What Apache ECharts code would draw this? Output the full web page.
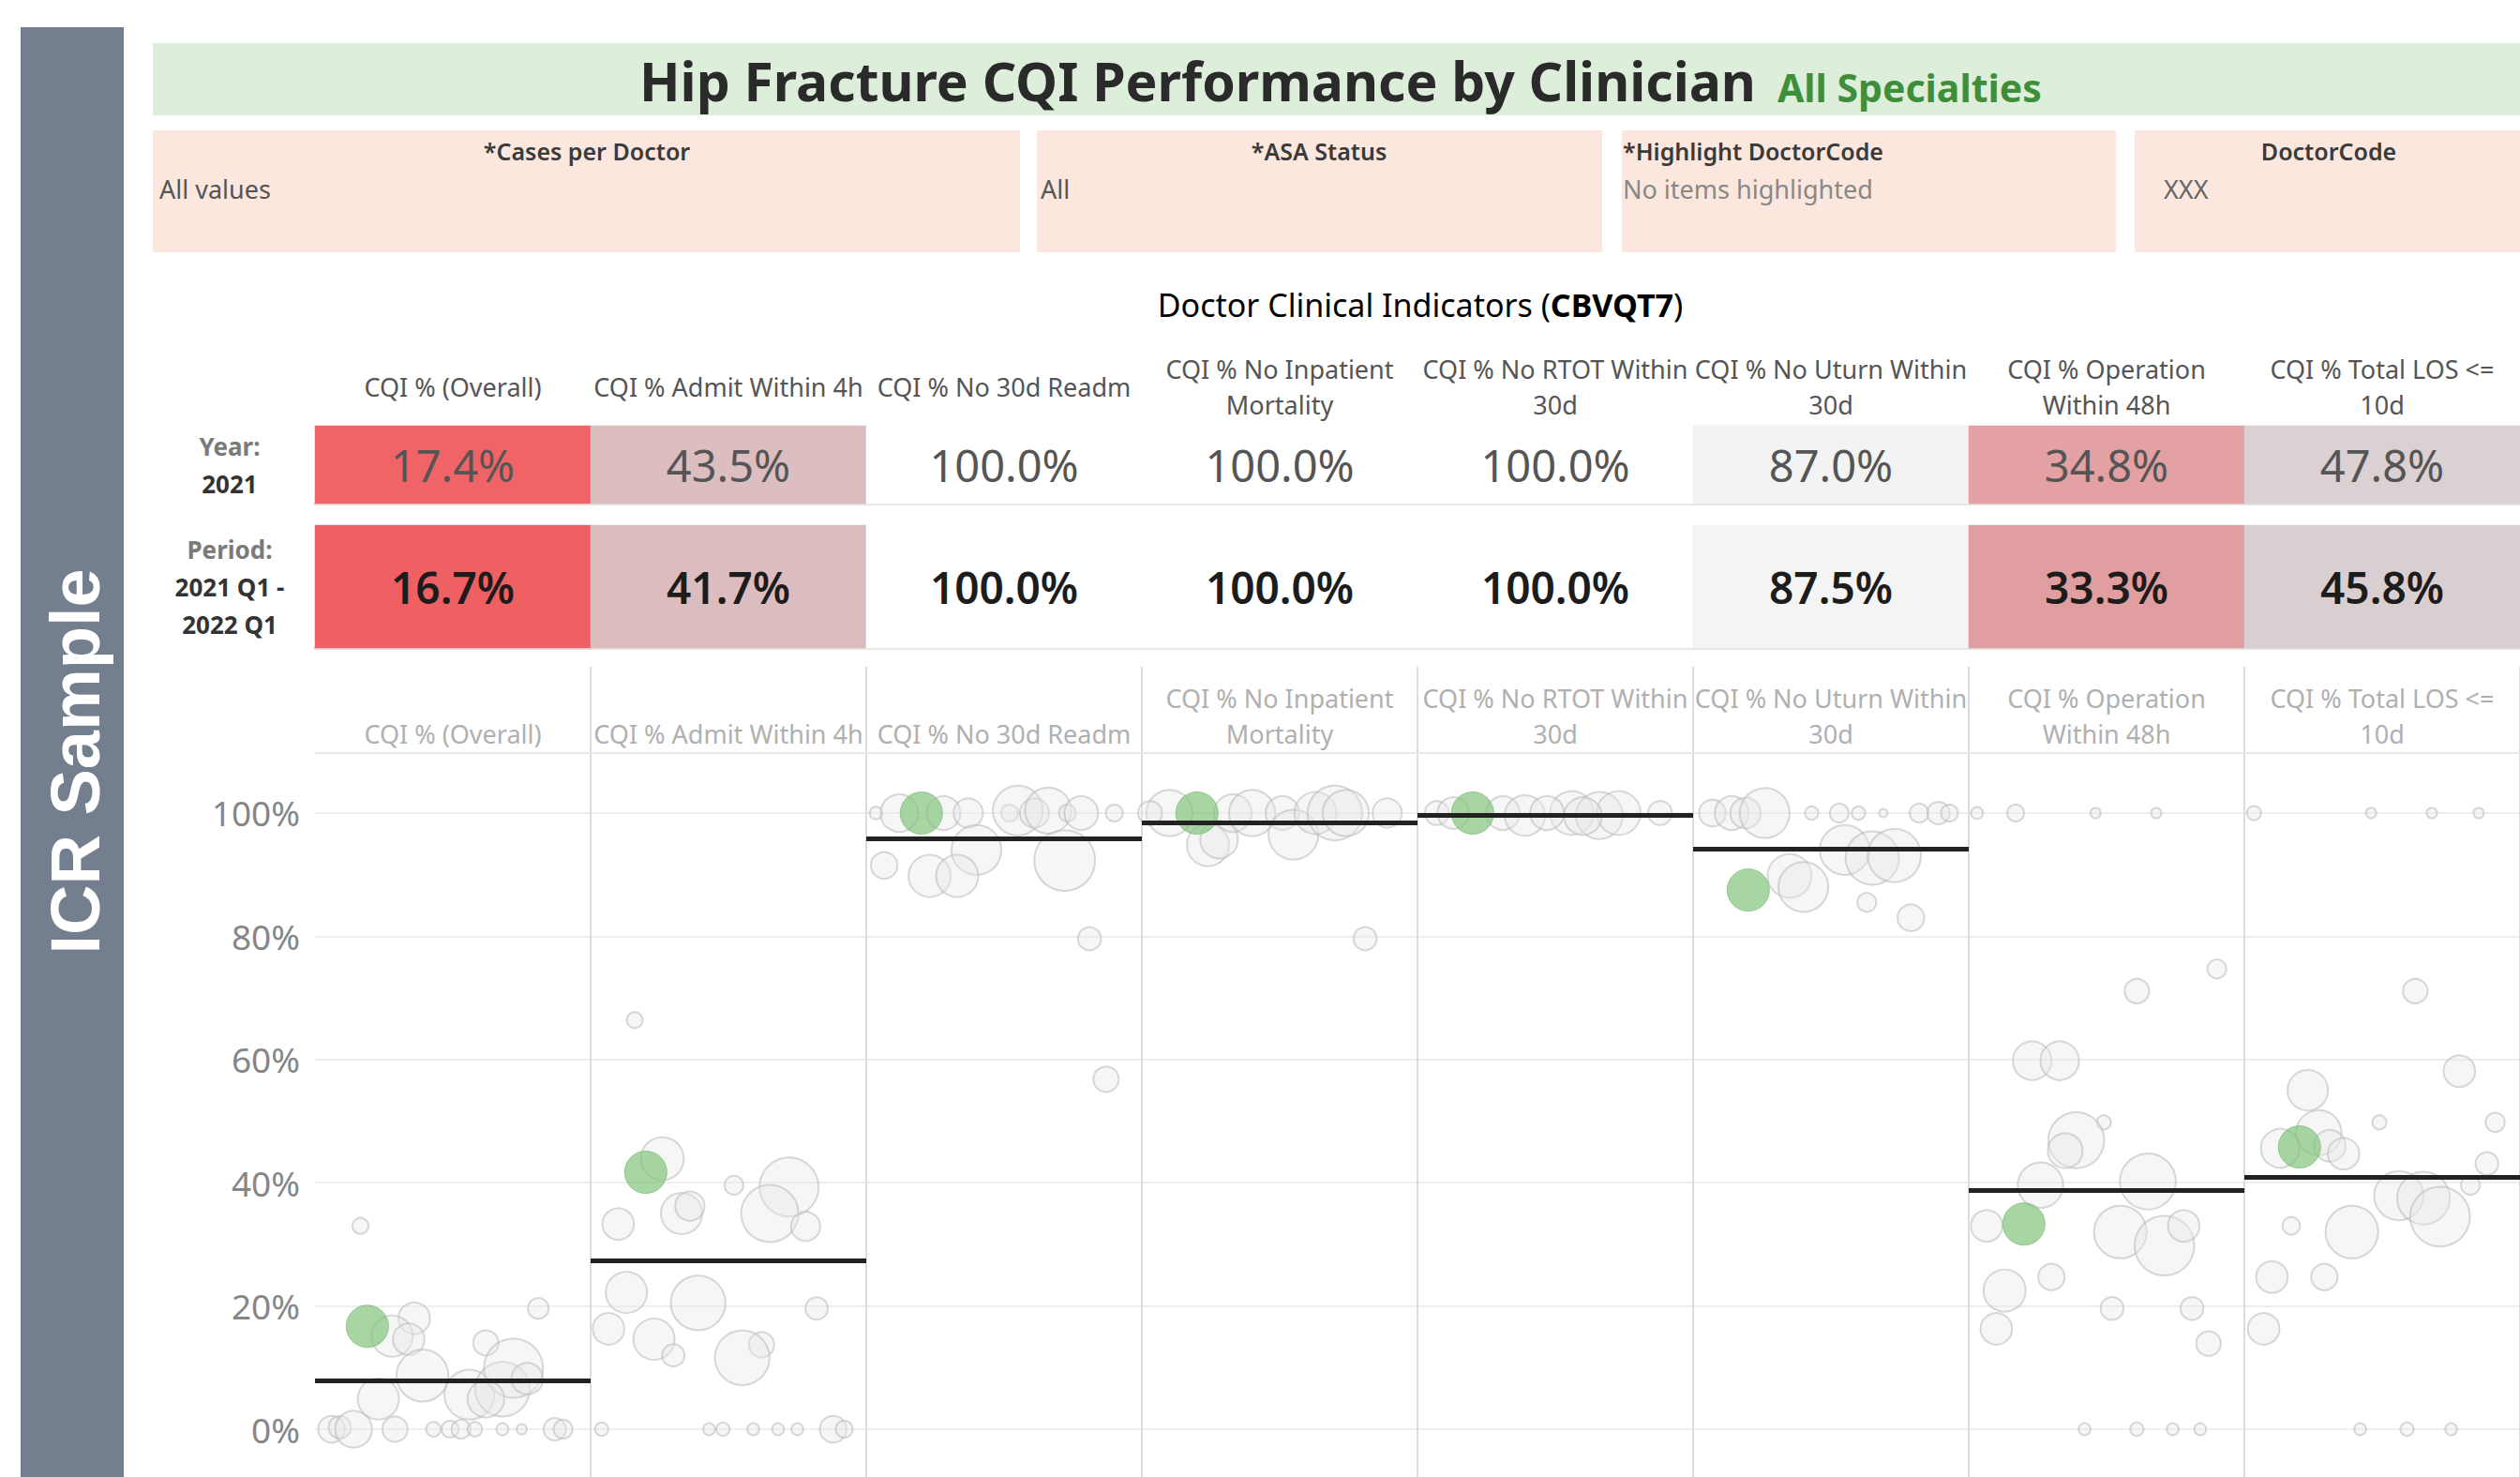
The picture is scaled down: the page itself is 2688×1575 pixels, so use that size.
<!DOCTYPE html>
<html>
<head>
<meta charset="utf-8">
<script src="https://cdn.jsdelivr.net/npm/echarts@6/dist/echarts.min.js"></script>
<style>
  html, body { margin: 0; padding: 0; background: #fff; }
  #main { width: 2688px; height: 1575px; }
</style>
</head>
<body>
<div id="main"></div>
<script>
// indicator columns
const indicators = [
  'CQI % (Overall)',
  'CQI % Admit Within 4h',
  'CQI % No 30d Readm',
  'CQI % No Inpatient\nMortality',
  'CQI % No RTOT Within\n30d',
  'CQI % No Uturn Within\n30d',
  'CQI % Operation\nWithin 48h',
  'CQI % Total LOS <=\n10d'
]

// doctor summary table (percent)
const yearValues = [17.4, 43.5, 100.0, 100.0, 100.0, 87.0, 34.8, 47.8]
const periodValues = [16.7, 41.7, 100.0, 100.0, 100.0, 87.5, 33.3, 45.8]
const yearColors = ['#f06467', '#dcbdc0', '#ffffff', '#ffffff', '#ffffff', '#f3f3f3', '#e3a1a4', '#dbd0d2']
const periodColors = ['#ef6063', '#dbbcbf', '#ffffff', '#ffffff', '#ffffff', '#f4f4f4', '#e19ea1', '#d9ced0']

// average of all clinicians per indicator (percent)
const avgValues = [7.9, 27.3, 95.9, 98.5, 99.7, 94.2, 38.8, 40.9]

// highlighted doctor: jitter within column and cases
const doctorJitter = [0.19, 0.20, 0.20, 0.20, 0.20, 0.20, 0.20, 0.20]
const doctorCases = 25

// other clinicians per column: [jitter, percent, cases]
const colOverall = [
  [0.36, 18.0, 14], [0.28, 15.1, 24], [0.34, 14.6, 14], [0.165, 33.0, 3.6], [0.81, 19.6, 6],
  [0.62, 14.0, 9], [0.39, 8.7, 38], [0.23, 4.9, 24], [0.56, 5.6, 35], [0.68, 6.5, 42],
  [0.72, 9.9, 49], [0.77, 8.2, 14], [0.62, 4.9, 19],
  [0.06, 0, 10], [0.09, 0.3, 7], [0.14, 0, 19], [0.29, 0, 9], [0.43, 0, 3], [0.49, 0, 4],
  [0.53, 0, 5], [0.58, 0, 3], [0.68, 0, 2], [0.75, 0, 1.5], [0.87, 0, 7], [0.90, 0, 5]
]
const colAdmit = [
  [0.26, 43.9, 26], [0.16, 66.4, 3.5], [0.10, 33.3, 14], [0.33, 35.0, 24], [0.36, 36.2, 12],
  [0.52, 39.6, 5], [0.72, 39.3, 49], [0.65, 35.0, 46], [0.78, 32.9, 12], [0.13, 22.2, 24],
  [0.39, 20.5, 42], [0.82, 19.6, 7], [0.065, 16.3, 14], [0.23, 14.6, 24], [0.30, 12.0, 7],
  [0.62, 13.7, 9], [0.55, 11.6, 42],
  [0.04, 0, 2.5], [0.43, 0, 2], [0.48, 0, 2.5], [0.59, 0, 2], [0.68, 0, 2], [0.75, 0, 2],
  [0.88, 0, 10], [0.92, 0, 4]
]
const colReadm = [
  [0.12, 100, 20], [0.035, 100, 2.2], [0.28, 100, 16], [0.37, 100, 12], [0.52, 100, 4],
  [0.55, 100.4, 35], [0.61, 100, 12], [0.66, 100.4, 30], [0.73, 100, 4], [0.78, 100, 16],
  [0.90, 100, 4], [0.40, 94.0, 35], [0.72, 92.3, 52], [0.065, 91.5, 10], [0.23, 89.8, 25],
  [0.33, 89.8, 25], [0.81, 79.6, 7.5], [0.87, 56.8, 9]
]
const colMortality = [
  [0.10, 100, 30], [0.24, 94.8, 25], [0.28, 95.7, 20], [0.33, 100, 20], [0.40, 100, 30],
  [0.51, 100, 16], [0.55, 96.5, 35], [0.63, 100, 25], [0.70, 100, 42], [0.74, 100, 30],
  [0.89, 100, 12], [0.81, 79.6, 7.5], [0.03, 100, 8]
]
const colRtot = [
  [0.07, 100, 8], [0.13, 100, 14], [0.31, 100, 16], [0.39, 99.6, 23], [0.56, 100, 27],
  [0.66, 99.6, 31], [0.73, 100, 27], [0.88, 100, 8], [0.47, 100, 16], [0.60, 99.5, 20]
]
const colUturn = [
  [0.07, 100, 10], [0.14, 100, 16], [0.19, 100, 13], [0.26, 100, 35], [0.43, 100, 2.5],
  [0.53, 100, 5], [0.60, 100, 2.5], [0.69, 100, 1], [0.82, 100, 5], [0.89, 100, 7],
  [0.93, 100, 4], [0.35, 89.8, 27], [0.40, 88.0, 35], [0.55, 94.0, 35], [0.65, 92.7, 40],
  [0.73, 93.1, 40], [0.63, 85.5, 5], [0.79, 83.0, 10]
]
const colOperation = [
  [0.03, 100, 2], [0.17, 100, 4], [0.46, 100, 1.5], [0.68, 100, 1.5],
  [0.90, 74.7, 5], [0.61, 71.1, 8.5], [0.23, 59.8, 21], [0.33, 59.8, 21], [0.49, 49.8, 2.8],
  [0.39, 46.9, 44], [0.35, 45.2, 17], [0.26, 39.6, 29], [0.65, 40.2, 44], [0.065, 33.0, 14],
  [0.55, 32.0, 39], [0.71, 29.8, 50], [0.78, 33.0, 14], [0.30, 24.7, 9.8], [0.13, 22.5, 25],
  [0.52, 19.6, 7.3], [0.81, 19.6, 7.3], [0.10, 16.3, 14], [0.87, 13.9, 8.5],
  [0.42, 0, 2], [0.61, 0, 2.5], [0.74, 0, 2], [0.84, 0, 2]
]
const colLos = [
  [0.035, 100, 2.8], [0.46, 100, 1.5], [0.68, 100, 1.5], [0.85, 100, 1.5],
  [0.62, 71.1, 8.5], [0.78, 58.1, 14], [0.23, 55.0, 23], [0.49, 49.8, 2.8], [0.91, 49.8, 5.2],
  [0.27, 48.1, 29], [0.13, 45.6, 21], [0.31, 46.0, 14], [0.36, 44.7, 14], [0.88, 43.1, 7.3],
  [0.56, 37.9, 34], [0.65, 37.5, 39], [0.71, 34.5, 50], [0.39, 32.0, 39], [0.82, 39.6, 5],
  [0.17, 33.0, 4.3], [0.10, 24.7, 14], [0.29, 24.7, 9.8], [0.07, 16.3, 14],
  [0.42, 0, 2], [0.59, 0, 2.5], [0.75, 0, 2]
]

const columns = [colOverall, colAdmit, colReadm, colMortality, colRtot, colUturn, colOperation, colLos]

const FONT = '"Noto Sans", "Open Sans", sans-serif'
const bubbleSize = d => 9 * Math.sqrt(d[2])

const otherBubbles = []
columns.forEach((col, c) => {
  col.forEach(p => otherBubbles.push([c + p[0], p[1], p[2]]))
})
const doctorBubbles = periodValues.map((v, c) => [c + doctorJitter[c], v, doctorCases])

const chart = echarts.init(document.getElementById('main'), null, { renderer: 'svg' })

const plotLeft = 336
const plotWidth = 2360

const option = {
  backgroundColor: '#ffffff',
  animation: false,
  textStyle: { fontFamily: FONT },
  grid: [
    { left: plotLeft, top: 454, width: plotWidth, height: 83 },
    { left: plotLeft, top: 560, width: plotWidth, height: 131 },
    { left: plotLeft, top: 711, width: plotWidth, height: 92 },
    { left: plotLeft, top: 803, width: plotWidth, height: 772 }
  ],
  xAxis: [
    {
      gridIndex: 0, type: 'category', position: 'top', data: indicators,
      axisLine: { show: false }, axisTick: { show: false },
      axisLabel: {
        interval: 0, margin: 42, verticalAlign: 'middle', lineHeight: 38,
        fontSize: 27, color: '#555', fontFamily: FONT
      }
    },
    {
      gridIndex: 0, type: 'category', position: 'bottom', data: indicators,
      axisLine: { show: true, lineStyle: { color: '#e4e4e4', width: 4 } },
      axisTick: { show: false }, axisLabel: { show: false }
    },
    {
      gridIndex: 1, type: 'category', position: 'top', data: indicators,
      axisLine: { show: false }, axisTick: { show: false }, axisLabel: { show: false }
    },
    {
      gridIndex: 1, type: 'category', position: 'bottom', data: indicators,
      axisLine: { show: true, lineStyle: { color: '#e4e4e4', width: 4 } },
      axisTick: { show: false }, axisLabel: { show: false }
    },
    {
      gridIndex: 2, type: 'value', min: 0, max: 8, interval: 1,
      axisLine: { show: false }, axisTick: { show: false }, axisLabel: { show: false },
      splitLine: { show: true, showMinLine: false, lineStyle: { color: '#dcdcdc', width: 2 } }
    },
    {
      gridIndex: 3, type: 'value', min: 0, max: 8, interval: 1,
      axisLine: { show: false }, axisTick: { show: false }, axisLabel: { show: false },
      splitLine: { show: true, showMinLine: false, lineStyle: { color: '#dcdcdc', width: 2 } }
    },
    {
      gridIndex: 3, type: 'category', position: 'top', data: indicators,
      axisLine: { show: true, lineStyle: { color: '#e8e8e8', width: 2 } },
      axisTick: { show: false },
      axisLabel: {
        interval: 0, margin: 2, verticalAlign: 'bottom', lineHeight: 38,
        fontSize: 27, color: '#b0b0b0', fontFamily: FONT
      }
    }
  ],
  yAxis: [
    {
      gridIndex: 0, type: 'category', data: ['year'],
      axisLine: { show: false }, axisTick: { show: false },
      axisLabel: {
        margin: 91, align: 'center',
        formatter: () => '{a|Year:}\n{b|2021}',
        rich: {
          a: { fontSize: 26, fontWeight: 'bold', color: '#7a7a7a', lineHeight: 40, fontFamily: FONT, align: 'center' },
          b: { fontSize: 26, fontWeight: 'bold', color: '#333', lineHeight: 40, fontFamily: FONT, align: 'center' }
        }
      }
    },
    {
      gridIndex: 1, type: 'category', data: ['period'],
      axisLine: { show: false }, axisTick: { show: false },
      axisLabel: {
        margin: 91, align: 'center',
        formatter: () => '{a|Period:}\n{b|2021 Q1 -}\n{b|2022 Q1}',
        rich: {
          a: { fontSize: 26, fontWeight: 'bold', color: '#7a7a7a', lineHeight: 40, fontFamily: FONT, align: 'center' },
          b: { fontSize: 26, fontWeight: 'bold', color: '#333', lineHeight: 40, fontFamily: FONT, align: 'center' }
        }
      }
    },
    {
      gridIndex: 2, type: 'value', min: 0, max: 1, show: false
    },
    {
      gridIndex: 3, type: 'value', min: -7.76, max: 109.74, splitNumber: 6,
      axisLine: { show: false }, axisTick: { show: false },
      axisLabel: {
        showMinLabel: false, showMaxLabel: false, margin: 16,
        fontSize: 37, color: '#868686', fontFamily: FONT,
        formatter: '{value}%'
      },
      splitLine: { show: true, showMinLine: false, showMaxLine: false, lineStyle: { color: '#eeeeee', width: 2 } }
    }
  ],
  graphic: [
    // side banner
    { type: 'rect', shape: { x: 22, y: 29, width: 110, height: 1546 }, style: { fill: '#737e8e' } },
    {
      type: 'text', x: 80, y: 812, rotation: Math.PI / 2,
      style: {
        text: 'ICR Sample', fill: '#ffffff', font: 'bold 74px "Liberation Sans", Arial, sans-serif',
        textAlign: 'center', textVerticalAlign: 'middle'
      }
    },
    // title bar
    { type: 'rect', shape: { x: 163, y: 46, width: 2530, height: 77 }, style: { fill: '#ddeedb' } },
    {
      type: 'text', x: 682, y: 86,
      style: {
        text: 'Hip Fracture CQI Performance by Clinician', fill: '#2a2a2a',
        font: 'bold 57px ' + FONT, textAlign: 'left', textVerticalAlign: 'middle'
      }
    },
    {
      type: 'text', x: 1896, y: 93,
      style: {
        text: 'All Specialties', fill: '#3f8f3a',
        font: 'bold 41px ' + FONT, textAlign: 'left', textVerticalAlign: 'middle'
      }
    },
    // filter boxes
    { type: 'rect', shape: { x: 163, y: 139, width: 925, height: 130 }, style: { fill: '#fbe7de' } },
    { type: 'rect', shape: { x: 1106, y: 139, width: 603, height: 130 }, style: { fill: '#fbe7de' } },
    { type: 'rect', shape: { x: 1730, y: 139, width: 527, height: 130 }, style: { fill: '#fbe7de' } },
    { type: 'rect', shape: { x: 2277, y: 139, width: 420, height: 130 }, style: { fill: '#fbe7de' } },
    { type: 'text', x: 626, y: 161, style: { text: '*Cases per Doctor', fill: '#3a3a3a', font: '600 25px ' + FONT, textAlign: 'center', textVerticalAlign: 'middle' } },
    { type: 'text', x: 170, y: 201, style: { text: 'All values', fill: '#555', font: '27px ' + FONT, textAlign: 'left', textVerticalAlign: 'middle' } },
    { type: 'text', x: 1407, y: 161, style: { text: '*ASA Status', fill: '#3a3a3a', font: '600 25px ' + FONT, textAlign: 'center', textVerticalAlign: 'middle' } },
    { type: 'text', x: 1110, y: 201, style: { text: 'All', fill: '#555', font: '27px ' + FONT, textAlign: 'left', textVerticalAlign: 'middle' } },
    { type: 'text', x: 1731, y: 161, style: { text: '*Highlight DoctorCode', fill: '#3a3a3a', font: '600 25px ' + FONT, textAlign: 'left', textVerticalAlign: 'middle' } },
    { type: 'text', x: 1731, y: 201, style: { text: 'No items highlighted', fill: '#888', font: '27px ' + FONT, textAlign: 'left', textVerticalAlign: 'middle' } },
    { type: 'text', x: 2484, y: 161, style: { text: 'DoctorCode', fill: '#3a3a3a', font: '600 25px ' + FONT, textAlign: 'center', textVerticalAlign: 'middle' } },
    { type: 'text', x: 2308, y: 201, style: { text: 'XXX', fill: '#666', font: '27px ' + FONT, textAlign: 'left', textVerticalAlign: 'middle' } },
    // table caption
    {
      type: 'text', x: 1515, y: 325,
      style: {
        text: '{a|Doctor Clinical Indicators (}{b|CBVQT7}{a|)}',
        textAlign: 'center', textVerticalAlign: 'middle',
        rich: {
          a: { fontSize: 34, color: '#666', fontFamily: FONT },
          b: { fontSize: 34, color: '#333', fontWeight: 'bold', fontFamily: FONT }
        }
      }
    }
  ],
  series: [
    {
      type: 'heatmap', xAxisIndex: 0, yAxisIndex: 0, silent: true,
      data: yearValues.map((v, i) => ({ value: [i, 0, v], itemStyle: { color: yearColors[i] } })),
      label: {
        show: true, fontSize: 47, color: '#555', fontFamily: FONT,
        formatter: p => p.value[2].toFixed(1) + '%'
      },
      emphasis: { disabled: true }
    },
    {
      type: 'heatmap', xAxisIndex: 2, yAxisIndex: 1, silent: true,
      data: periodValues.map((v, i) => ({ value: [i, 0, v], itemStyle: { color: periodColors[i] } })),
      label: {
        show: true, fontSize: 46, fontWeight: 600, color: '#1c1c1c', fontFamily: FONT,
        formatter: p => p.value[2].toFixed(1) + '%'
      },
      emphasis: { disabled: true }
    },
    {
      type: 'scatter', xAxisIndex: 5, yAxisIndex: 3, silent: true, z: 2,
      data: otherBubbles,
      symbolSize: bubbleSize,
      itemStyle: { color: 'rgba(232,232,232,0.5)', borderColor: 'rgba(185,185,185,0.7)', borderWidth: 2 }
    },
    {
      type: 'scatter', xAxisIndex: 5, yAxisIndex: 3, silent: true, z: 3,
      data: doctorBubbles,
      symbolSize: bubbleSize,
      itemStyle: { color: 'rgba(132,196,126,0.88)', borderColor: 'rgba(120,185,114,0.9)', borderWidth: 1 }
    },
    {
      type: 'lines', coordinateSystem: 'cartesian2d', xAxisIndex: 5, yAxisIndex: 3, silent: true, z: 4,
      data: avgValues.map((v, i) => ({ coords: [[i, v], [i + 1, v]] })),
      lineStyle: { color: '#222', width: 5, opacity: 1 }
    }
  ]
}

chart.setOption(option)
</script>
</body>
</html>
